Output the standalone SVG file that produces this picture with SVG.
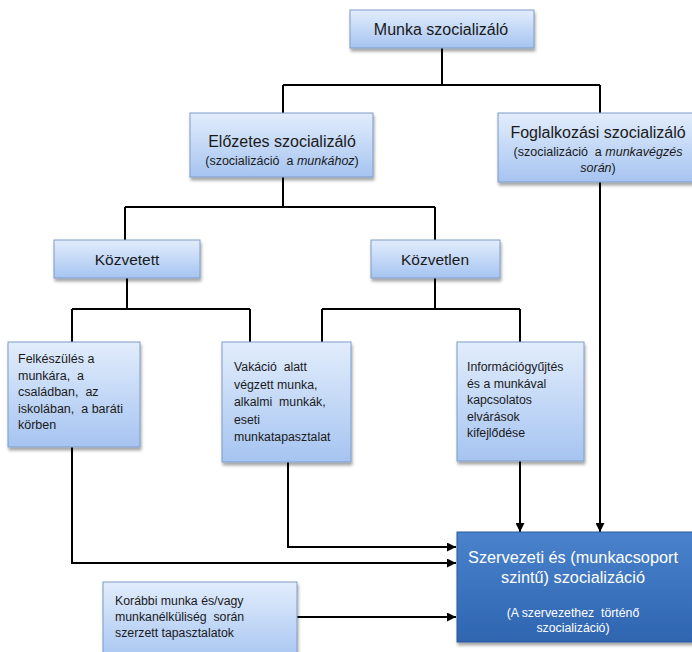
<svg xmlns="http://www.w3.org/2000/svg" width="692" height="652" viewBox="0 0 692 652">
<defs>
<linearGradient id="lb" x1="0" y1="0" x2="0" y2="1">
<stop offset="0" stop-color="#e2edfc"/>
<stop offset="1" stop-color="#a6c4f1"/>
</linearGradient>
<linearGradient id="db" x1="0" y1="0" x2="0" y2="1">
<stop offset="0" stop-color="#4a82cc"/>
<stop offset="1" stop-color="#2f65b0"/>
</linearGradient>
<filter id="sh" x="-10%" y="-10%" width="130%" height="140%">
<feDropShadow dx="1" dy="3" stdDeviation="1.5" flood-color="#000" flood-opacity="0.35"/>
</filter>
<marker id="ah" viewBox="0 0 10 10" refX="10" refY="5" markerWidth="5" markerHeight="4.5" orient="auto" markerUnits="strokeWidth">
<path d="M0,0 L10,5 L0,10 z" fill="#000"/>
</marker>
</defs>
<style>
.n{fill:url(#lb);stroke:#7d9cc8;stroke-width:1;filter:url(#sh)}
.d{fill:url(#db);stroke:#2a5a9e;stroke-width:1;filter:url(#sh)}
.t{font-family:"Liberation Sans",Arial,sans-serif;fill:#1a1a1a}
.w{font-family:"Liberation Sans",Arial,sans-serif;fill:#ffffff}
.c{fill:none;stroke:#000;stroke-width:2}
.a{fill:none;stroke:#000;stroke-width:2;marker-end:url(#ah)}
</style>
<rect width="692" height="652" fill="#ffffff"/>
<g id="connectors">
<path class="c" d="M442,48 V85 M283,85 H600 M283,85 V113 M600,85 V113"/>
<path class="c" d="M283,177 V207 M125,207 H435 M125,207 V240 M435,207 V240"/>
<path class="c" d="M127,278 V309 M72,309 H250 M72,309 V342 M250,309 V342"/>
<path class="c" d="M435,278 V309 M322,309 H520 M322,309 V342 M520,309 V342"/>
<path class="a" d="M72,447 V563 H456"/>
<path class="a" d="M288,462 V547 H456"/>
<path class="a" d="M520,461 V532"/>
<path class="a" d="M600,182 V532"/>
<path class="a" d="M297,617 H456"/>
</g>
<g id="munka">
<rect class="n" x="350" y="10" width="184" height="38"/>
<text class="t" x="441" y="35" font-size="16" text-anchor="middle">Munka szocializáló</text>
</g>
<g id="elozetes">
<rect class="n" x="190" y="113" width="183" height="64"/>
<text class="t" x="282" y="147" font-size="16" text-anchor="middle">Előzetes szocializáló</text>
<text class="t" x="282" y="165" font-size="12.5" text-anchor="middle" xml:space="preserve">(szocializáció  a <tspan font-style="italic">munkához</tspan>)</text>
</g>
<g id="foglalkozasi">
<rect class="n" x="498" y="113" width="196" height="69"/>
<text class="t" x="598" y="138" font-size="16" text-anchor="middle">Foglalkozási szocializáló</text>
<text class="t" x="598" y="156" font-size="12.5" text-anchor="middle" xml:space="preserve">(szocializáció  a <tspan font-style="italic">munkavégzés</tspan></text>
<text class="t" x="598" y="172" font-size="12.5" text-anchor="middle"><tspan font-style="italic">során</tspan>)</text>
</g>
<g id="kozvetett">
<rect class="n" x="54" y="240" width="146" height="38"/>
<text class="t" x="127" y="265" font-size="15.5" text-anchor="middle">Közvetett</text>
</g>
<g id="kozvetlen">
<rect class="n" x="371" y="240" width="129" height="38"/>
<text class="t" x="435" y="265" font-size="15.5" text-anchor="middle">Közvetlen</text>
</g>
<g id="felkeszules">
<rect class="n" x="8" y="342" width="132" height="105"/>
<text class="t" font-size="12.5">
<tspan x="18" y="363">Felkészülés a</tspan>
<tspan x="18" y="379.5" xml:space="preserve">munkára,  a</tspan>
<tspan x="18" y="396" xml:space="preserve">családban,  az</tspan>
<tspan x="18" y="412.5" xml:space="preserve">iskolában,  a baráti</tspan>
<tspan x="18" y="429">körben</tspan>
</text>
</g>
<g id="vakacio">
<rect class="n" x="222" y="342" width="129" height="120"/>
<text class="t" font-size="12.3">
<tspan x="234" y="371" xml:space="preserve">Vakáció  alatt</tspan>
<tspan x="234" y="388.5">végzett munka,</tspan>
<tspan x="234" y="406" xml:space="preserve">alkalmi  munkák,</tspan>
<tspan x="234" y="423.5">eseti</tspan>
<tspan x="234" y="441">munkatapasztalat</tspan>
</text>
</g>
<g id="informacio">
<rect class="n" x="457" y="342" width="127" height="119"/>
<text class="t" font-size="12.3">
<tspan x="467" y="371">Információgyűjtés</tspan>
<tspan x="467" y="387.5">és a munkával</tspan>
<tspan x="467" y="404">kapcsolatos</tspan>
<tspan x="467" y="420.5">elvárások</tspan>
<tspan x="467" y="437">kifejlődése</tspan>
</text>
</g>
<g id="korabbi">
<rect class="n" x="103" y="582" width="194" height="80"/>
<text class="t" font-size="12.3">
<tspan x="115" y="605">Korábbi munka és/vagy</tspan>
<tspan x="115" y="621" xml:space="preserve">munkanélküliség  során</tspan>
<tspan x="115" y="637">szerzett tapasztalatok</tspan>
</text>
</g>
<g id="szervezeti">
<rect class="d" x="457" y="532" width="240" height="110"/>
<text class="w" x="573" y="563" font-size="16.3" text-anchor="middle">Szervezeti és (munkacsoport</text>
<text class="w" x="573" y="583" font-size="16.3" text-anchor="middle">szintű) szocializáció</text>
<text class="w" x="573" y="617" font-size="12.3" text-anchor="middle" xml:space="preserve">(A szervezethez  történő</text>
<text class="w" x="573" y="632" font-size="12.3" text-anchor="middle">szocializáció)</text>
</g>
</svg>
